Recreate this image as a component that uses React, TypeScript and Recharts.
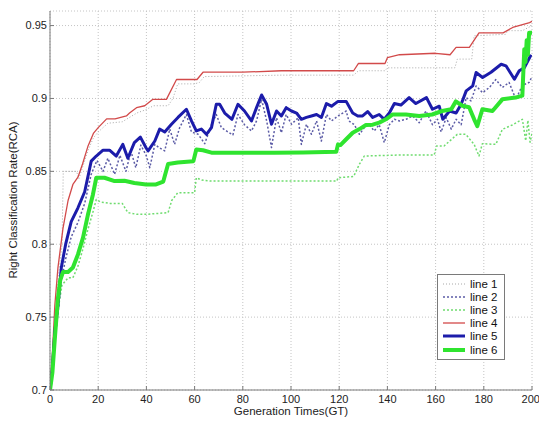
import React from "react";
import {
  LineChart,
  Line,
  XAxis,
  YAxis,
  CartesianGrid,
} from "recharts";

// [generation, rate] pairs
const line1: [number, number][] = [
  [0, 0.7], [1, 0.72], [2, 0.74], [3.3, 0.775], [5, 0.8], [5.5, 0.85], [11, 0.85],
  [12, 0.845], [15.7, 0.864], [18, 0.873], [20, 0.877], [24, 0.883], [30, 0.884],
  [33, 0.887], [36, 0.89], [39.3, 0.892], [43, 0.895], [49, 0.895], [51, 0.9],
  [53, 0.91], [60, 0.91], [62, 0.911], [64, 0.915], [96, 0.916], [126, 0.916],
  [128, 0.919], [139, 0.919], [140, 0.921], [168, 0.921], [169, 0.927], [175, 0.927],
  [176, 0.943], [189, 0.944], [190, 0.9465], [196, 0.9465], [200, 0.95],
];

const line2: [number, number][] = [
  [0, 0.7], [1, 0.712], [2, 0.735], [3.3, 0.752], [4.7, 0.775], [6.5, 0.79],
  [8.8, 0.805], [11.6, 0.815], [14.4, 0.828], [17.1, 0.848], [19.5, 0.8575],
  [22, 0.85], [24, 0.859], [26.8, 0.848], [29, 0.861], [31.5, 0.85], [33.6, 0.8637],
  [35.6, 0.8525], [37.7, 0.868], [39.9, 0.861], [41.4, 0.8525], [43.5, 0.8685],
  [45.5, 0.866], [47.6, 0.864], [49.7, 0.879], [51.7, 0.8685], [53.8, 0.88],
  [56.6, 0.889], [58.7, 0.877], [61.5, 0.8754], [64.2, 0.869], [67, 0.882],
  [69, 0.889], [71.1, 0.88], [73.9, 0.877], [75.9, 0.875], [78, 0.889], [80.7, 0.882],
  [83.6, 0.8777], [85.7, 0.8846], [87.8, 0.8994], [89.9, 0.8846], [91.9, 0.8663],
  [94, 0.8868], [96, 0.8765], [98, 0.889], [100.2, 0.8823], [103, 0.8868],
  [104.3, 0.8685], [106.4, 0.8823], [108.5, 0.8754], [110.6, 0.8846], [112.6, 0.8708],
  [114.7, 0.889], [116.8, 0.8846], [119.5, 0.888], [122.9, 0.8914], [124, 0.8846],
  [126.3, 0.882], [128.4, 0.8754], [130.4, 0.88], [132.5, 0.882], [134.5, 0.8777],
  [136.6, 0.882], [138.7, 0.8697], [140.8, 0.882], [142.9, 0.8857], [145, 0.8846],
  [147.7, 0.8857], [150.5, 0.888], [153.2, 0.8834], [156, 0.8914], [158.7, 0.882],
  [160.8, 0.8857], [162.3, 0.877], [164.4, 0.8868], [166.5, 0.879], [168.5, 0.8857],
  [170.6, 0.882], [172.7, 0.9006], [174.7, 0.8983], [176.8, 0.9086], [179.5, 0.904],
  [182.3, 0.9075], [185, 0.913], [187.7, 0.9075], [190.5, 0.911], [193.3, 0.8994],
  [196, 0.909], [198.8, 0.911], [200, 0.915],
];

const line3: [number, number][] = [
  [0, 0.7], [1, 0.71], [2, 0.73], [3.3, 0.755], [5, 0.772], [7.5, 0.777], [9.5, 0.777],
  [11.6, 0.785], [13.7, 0.797], [15.7, 0.81], [17.8, 0.822], [19.2, 0.8307],
  [21, 0.829], [25, 0.828], [30, 0.828], [32.3, 0.8217], [36, 0.8205], [40, 0.8205],
  [49, 0.8217], [50.5, 0.83], [53, 0.8353], [60, 0.8353], [60.7, 0.8456], [63, 0.844],
  [67, 0.8433], [100, 0.8433], [119, 0.8433], [119.5, 0.8456], [126, 0.8465],
  [128.4, 0.855], [130.4, 0.8605], [145, 0.8612], [159.4, 0.8612], [160.4, 0.8674],
  [163.5, 0.8674], [169, 0.8754], [172.5, 0.8754], [176, 0.8685], [178, 0.8605],
  [179.4, 0.869], [185, 0.8685], [187.7, 0.8788], [191.8, 0.8818], [196, 0.8857],
  [197.4, 0.871], [198.3, 0.885], [199.2, 0.87], [200, 0.876],
];

const line4: [number, number][] = [
  [0, 0.7], [1, 0.725], [2, 0.758], [3.3, 0.784], [5.4, 0.811], [7.5, 0.83],
  [9.5, 0.841], [11.6, 0.846], [13.5, 0.855], [15.7, 0.867], [18, 0.876], [20, 0.88],
  [23.5, 0.886], [27, 0.886], [31.7, 0.888], [33, 0.89], [35.9, 0.8937], [39.3, 0.895],
  [42.7, 0.8994], [48.3, 0.8994], [52.5, 0.913], [61, 0.913], [63.5, 0.918],
  [80, 0.918], [96, 0.919], [126, 0.919], [128, 0.924], [139, 0.924], [140, 0.928],
  [145, 0.93], [160, 0.931], [166, 0.93], [168.5, 0.935], [174, 0.935], [178, 0.945],
  [188, 0.945], [192, 0.9487], [199, 0.952], [200, 0.953],
];

const line5: [number, number][] = [
  [0, 0.7], [1, 0.715], [2, 0.74], [3.3, 0.758], [4.7, 0.784], [6.5, 0.8],
  [8.8, 0.8155], [11.6, 0.825], [14.4, 0.836], [17.1, 0.857], [19.2, 0.8605],
  [22, 0.8645], [24.7, 0.8645], [27.5, 0.8605], [30.2, 0.8685], [32.3, 0.859],
  [35, 0.8697], [37.5, 0.8735], [39.9, 0.866], [40.7, 0.864], [43.5, 0.8708],
  [45.5, 0.879], [47.6, 0.877], [50.4, 0.8823], [53.1, 0.887], [56.6, 0.8926],
  [58.7, 0.8846], [60.7, 0.8777], [62.8, 0.879], [64.9, 0.8754], [67, 0.88],
  [69, 0.896], [70.4, 0.896], [72.5, 0.89], [75.5, 0.8857], [78, 0.896], [80.7, 0.8914],
  [83.6, 0.8846], [85.7, 0.8937], [87.8, 0.9024], [89.9, 0.896], [91.9, 0.8823],
  [94, 0.8914], [96, 0.888], [98, 0.8937], [100.2, 0.8914], [102.3, 0.89],
  [104.3, 0.8857], [106.4, 0.887], [108.5, 0.888], [110.6, 0.889], [112.6, 0.887],
  [114.7, 0.8965], [116.8, 0.8947], [119.5, 0.898], [122.9, 0.898], [125.6, 0.89],
  [127.7, 0.888], [129.7, 0.888], [131.8, 0.891], [133.9, 0.887], [136.6, 0.889],
  [138.7, 0.8857], [140.8, 0.89], [142.9, 0.8965], [145.6, 0.8955], [149, 0.9006],
  [151.8, 0.8965], [156.2, 0.9006], [158.7, 0.8926], [161.5, 0.8947], [163, 0.8857],
  [165.8, 0.8914], [168.5, 0.89], [170.6, 0.896], [172.7, 0.9052], [175.4, 0.9086],
  [176.8, 0.9178], [179.5, 0.9144], [183, 0.918], [187.2, 0.9235], [189.2, 0.9224],
  [192.7, 0.9132], [194.7, 0.919], [196.8, 0.921], [199.6, 0.93],
];

const line6: [number, number][] = [
  [0, 0.7], [1, 0.712], [2, 0.735], [3.3, 0.763], [4.2, 0.775], [5.4, 0.781],
  [7.5, 0.781], [9.5, 0.784], [11.6, 0.793], [13.7, 0.8045], [15.7, 0.82],
  [17.8, 0.834], [19.2, 0.8456], [22.6, 0.8456], [26.8, 0.8433], [30.9, 0.8435],
  [35, 0.842], [39.9, 0.841], [44, 0.841], [47, 0.843], [49, 0.855], [53, 0.856],
  [59.5, 0.857], [60.7, 0.865], [63.5, 0.8645], [67, 0.8628], [80, 0.8628],
  [93, 0.8628], [105, 0.863], [118.8, 0.8635], [119.5, 0.8685], [120.5, 0.868],
  [122.9, 0.872], [125.6, 0.8765], [128.4, 0.879], [131.1, 0.8818], [133.9, 0.882],
  [136.6, 0.8834], [139.4, 0.8857], [142.2, 0.889], [147.7, 0.889], [153.2, 0.888],
  [158.6, 0.889], [162.7, 0.8914], [166.5, 0.8926], [168.4, 0.898], [171.1, 0.895],
  [173.9, 0.894], [176, 0.8857], [177.3, 0.881], [179.4, 0.8926], [183.6, 0.8914],
  [187.7, 0.8994], [193.2, 0.9006], [196, 0.902], [196.8, 0.9338], [197.3, 0.925],
  [197.8, 0.94], [198.3, 0.93], [198.8, 0.945], [200, 0.945],
];

const xTicks = [0, 20, 40, 60, 80, 100, 120, 140, 160, 180, 200];
const yTicks = [0.7, 0.75, 0.8, 0.85, 0.9, 0.95];

const toPts = (arr: [number, number][]) => arr.map(([x, y]) => ({ x, y }));

const series = [
  { name: "line 1", data: line1, color: "#a8a8a8", width: 1, dash: "1 2" },
  { name: "line 2", data: line2, color: "#5c5ca6", width: 1.5, dash: "2 2" },
  { name: "line 3", data: line3, color: "#6fdc6f", width: 1.5, dash: "2 2" },
  { name: "line 4", data: line4, color: "#d24a4a", width: 1.3, dash: undefined },
  { name: "line 5", data: line5, color: "#1c1caa", width: 3, dash: undefined },
  { name: "line 6", data: line6, color: "#2fe42f", width: 4, dash: undefined },
];

const FONT = "Arial, 'Liberation Sans', sans-serif";
const frame = "#7a7a7a";

// drawn as an overlay so it doesn't shrink the plot area
const LegendBox = () => (
  <div
    style={{
      position: "absolute",
      left: 437,
      top: 274,
      width: 66,
      border: `1px solid ${frame}`,
      background: "#fff",
      padding: "2px 0 3px 0",
      fontFamily: FONT,
      fontSize: 11.5,
      color: "#111",
    }}
  >
    {series.map((s) => (
      <div key={s.name} style={{ display: "flex", alignItems: "center", height: 13.2 }}>
        <svg width={32} height={10} style={{ flexShrink: 0 }}>
          <line
            x1={5}
            x2={27}
            y1={5}
            y2={5}
            stroke={s.color}
            strokeWidth={s.width}
            strokeDasharray={s.dash}
          />
        </svg>
        <span style={{ lineHeight: "12px" }}>{s.name}</span>
      </div>
    ))}
  </div>
);

export default function App() {
  return (
    <div style={{ position: "absolute", left: 0, top: 0, width: 539, height: 421, background: "#fff" }}>
      <LineChart
        width={539}
        height={421}
        margin={{ top: 11, right: 7, bottom: 0, left: 0 }}
      >
        <CartesianGrid stroke="#c4c4c4" strokeDasharray="1 2" />
        {/* negative tickSize -> MATLAB-style ticks pointing into the plot */}
        <XAxis
          dataKey="x"
          type="number"
          domain={[0, 200]}
          ticks={xTicks}
          height={31}
          tickSize={-4}
          tickMargin={9}
          stroke={frame}
          tick={{ fill: "#222", fontSize: 11, fontFamily: FONT }}
          allowDataOverflow
          label={() => (
            <text
              x={291}
              y={415}
              textAnchor="middle"
              fill="#222"
              fontSize={11.5}
              fontFamily={FONT}
            >
              Generation Times(GT)
            </text>
          )}
        />
        <XAxis
          xAxisId="top"
          orientation="top"
          type="number"
          domain={[0, 200]}
          ticks={xTicks}
          height={0}
          tick={false}
          tickSize={-4}
          stroke={frame}
        />
        <YAxis
          type="number"
          domain={[0.7, 0.96]}
          ticks={yTicks}
          width={50}
          tickSize={-4}
          tickMargin={7}
          stroke={frame}
          tick={{ fill: "#222", fontSize: 11, fontFamily: FONT }}
          allowDataOverflow
          label={() => (
            <text
              x={13}
              y={200}
              transform="rotate(-90 13 200)"
              textAnchor="middle"
              dominantBaseline="central"
              fill="#222"
              fontSize={11.5}
              fontFamily={FONT}
            >
              Right Classification Rate(RCA)
            </text>
          )}
        />
        <YAxis
          yAxisId="right"
          orientation="right"
          type="number"
          domain={[0.7, 0.96]}
          ticks={yTicks}
          width={0}
          tick={false}
          tickSize={-4}
          stroke={frame}
        />
        {series.map((s) => (
          <Line
            key={s.name}
            data={toPts(s.data)}
            dataKey="y"
            name={s.name}
            type="linear"
            stroke={s.color}
            strokeWidth={s.width}
            strokeDasharray={s.dash}
            strokeLinejoin="round"
            dot={false}
            activeDot={false}
            isAnimationActive={false}
          />
        ))}
      </LineChart>
      <LegendBox />
    </div>
  );
}
